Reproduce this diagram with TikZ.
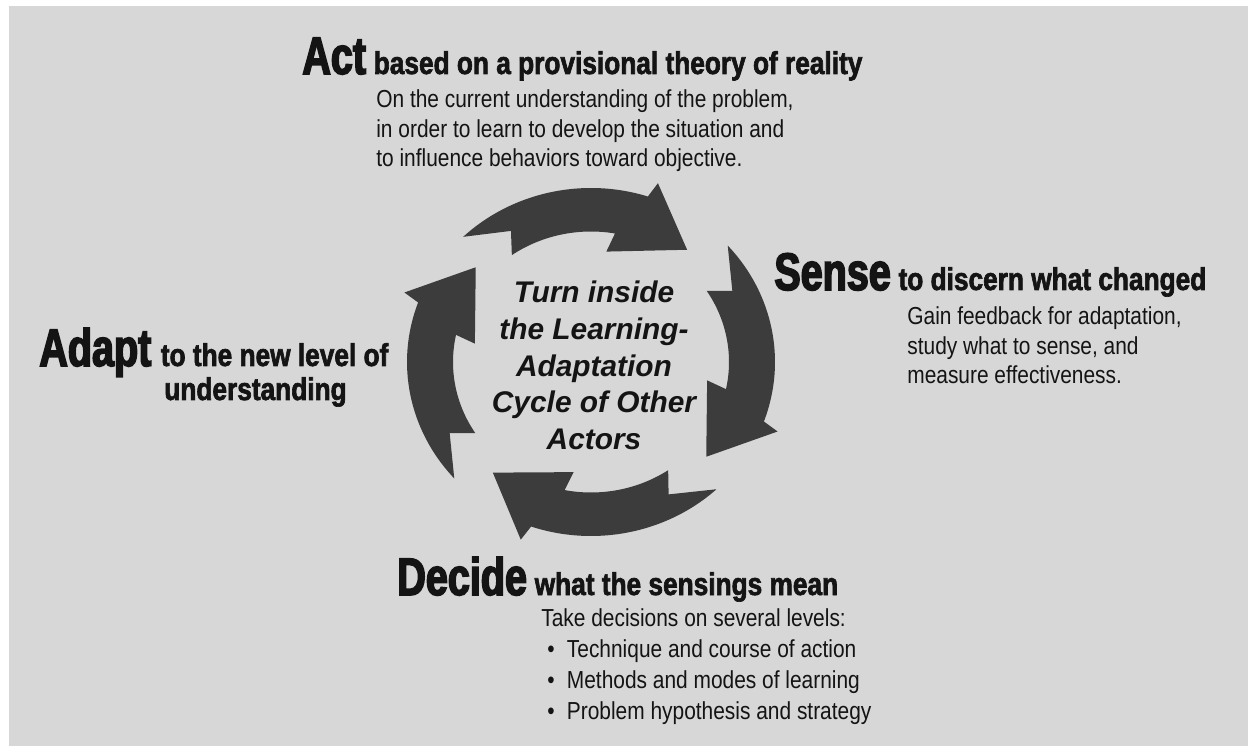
\documentclass[tikz,border=0pt]{standalone}
\usepackage{fontspec}
\setmainfont{Liberation Sans}
\newfontfamily\headfont[FakeStretch=0.75, BoldFeatures={FakeBold=3}]{Liberation Sans}
\newfontfamily\subfont[FakeStretch=0.83, BoldFeatures={FakeBold=2}]{Liberation Sans}
\newfontfamily\bodyfont[FakeStretch=0.85]{Liberation Sans}
\usetikzlibrary{positioning}
\definecolor{bggray}{HTML}{D7D7D7}
\definecolor{arrowgray}{HTML}{3C3C3C}
\definecolor{inkblack}{HTML}{141414}

\begin{document}
\begin{tikzpicture}[x=0.02cm, y=-0.02cm,
        headword/.style = {anchor=base west, inner sep=0, text=inkblack, font=\headfont\bfseries\fontsize{30}{36}\selectfont},
        headline/.style = {anchor=base west, inner sep=0, text=inkblack, font=\subfont\bfseries\fontsize{18}{21}\selectfont},
        bodytext/.style = {anchor=north west, inner sep=0, align=left, text=inkblack, font=\bodyfont\fontsize{14}{17}\selectfont},
        hubtext/.style = {anchor=north, inner sep=0, align=center, text=inkblack, font=\bfseries\itshape\fontsize{17}{20.8}\selectfont},
        cyclearrow/.style = {fill=arrowgray}]
                \useasboundingbox (0, 0) rectangle (1248, 746);
                \fill[white] (0, 0) rectangle (1248, 746);
                \fill[bggray] (9, 6) rectangle (1248, 746);

                \begin{scope}[shift={(591, 362)}, xscale=184, yscale=-174]
                    \foreach \c in {92, 0, -89, 180}
                        \fill[cyclearrow] (\c+42:1) arc[start angle=\c+42, end angle=\c-20, radius=1]
                            -- (\c-21.5:1.09) -- (\c-41:0.83) -- (\c-9.5:0.64) -- (\c-12:0.75)
                            arc[start angle=\c-12, end angle=\c+33, radius=0.75]
                            -- (\c+28:0.87) -- cycle;
                \end{scope}

                \node[hubtext] at (594, 281) (hub) {Turn inside\\the Learning-\\Adaptation\\Cycle of Other\\Actors};

                \node[headword] at (302, 74) (act) {Act};
                \node[headline, base right=4pt of act] (actsub) {based on a provisional theory of reality};
                \node[bodytext] at (376, 89) (actbody) {On the current understanding of the problem,\\in order to learn to develop the situation and\\to influence behaviors toward objective.};

                \node[headword] at (774, 290) (sense) {Sense};
                \node[headline, base right=4pt of sense] (sensesub) {to discern what changed};
                \node[bodytext] at (907, 306) (sensebody) {Gain feedback for adaptation,\\study what to sense, and\\measure effectiveness.};

                \node[headword] at (39, 366) (adapt) {Adapt};
                \node[headline, base right=5pt of adapt] (adaptsub) {to the new level of};
                \node[headline] at (164, 400) (adaptsub2) {understanding};

                \node[headword] at (397, 595) (decide) {Decide};
                \node[headline, base right=4pt of decide] (decidesub) {what the sensings mean};
                \node[bodytext, font=\bodyfont\fontsize{14}{17.7}\selectfont] at (541, 608) (decidebody) {Take decisions on several levels:\\
                    \hspace*{3.4pt}\textbullet\hspace{7pt}Technique and course of action\\
                    \hspace*{3.4pt}\textbullet\hspace{7pt}Methods and modes of learning\\
                    \hspace*{3.4pt}\textbullet\hspace{7pt}Problem hypothesis and strategy};
            \end{tikzpicture}
\end{document}
